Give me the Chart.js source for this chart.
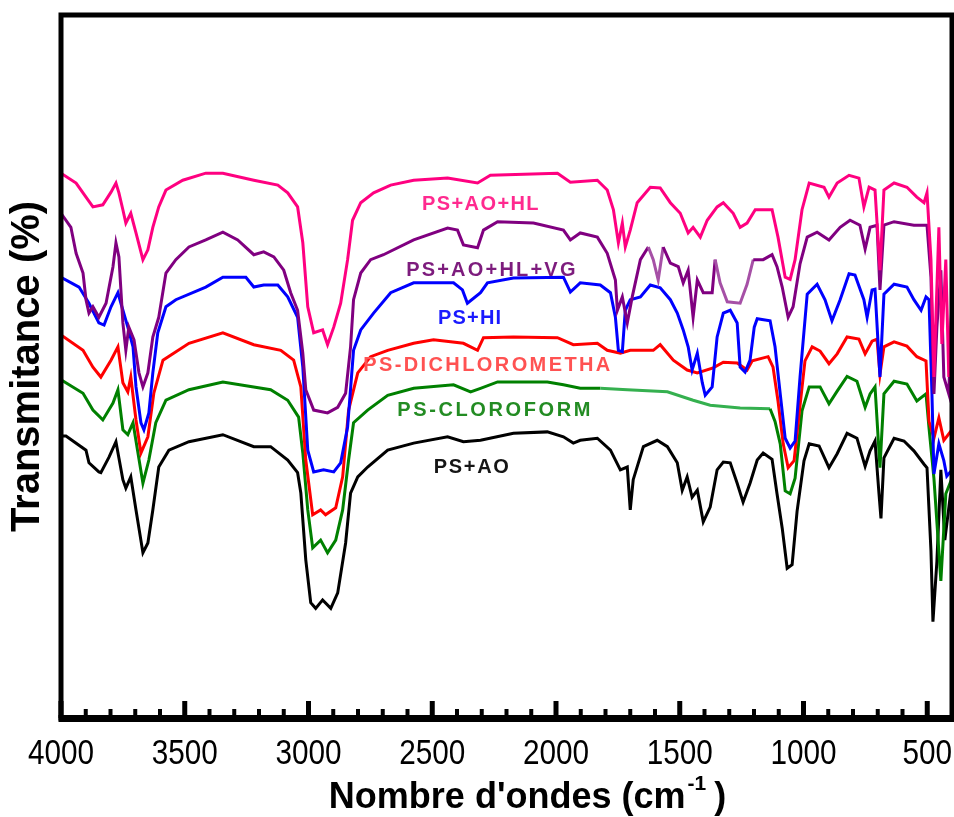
<!DOCTYPE html>
<html>
<head>
<meta charset="utf-8">
<script src="https://cdn.jsdelivr.net/npm/chart.js@4.4.1/dist/chart.umd.min.js"></script>
<style>
  html, body { margin: 0; padding: 0; background: #fff; }
  #wrap { width: 954px; height: 817px; position: relative; }
</style>
</head>
<body>
<div id="wrap"><canvas id="ftir"></canvas></div>
<script>
// FTIR spectra, [wavenumber (cm-1), transmittance (%)] pairs, one array per sample
const psAoHl = [[4000,77.5],[3939,76.1],[3899,74.1],[3871,72.7],[3831,73.0],[3798,74.8],[3778,76.1],[3766,74.7],[3750,72.3],[3738,70.4],[3718,71.8],[3697,69.0],[3669,65.2],[3649,66.6],[3629,69.8],[3605,72.7],[3576,75.1],[3508,76.5],[3415,77.5],[3346,77.5],[3221,76.5],[3124,75.8],[3084,74.7],[3044,72.7],[3023,67.6],[3003,58.5],[2979,54.8],[2943,55.2],[2923,53.1],[2898,55.6],[2870,59.0],[2842,65.2],[2822,70.8],[2789,73.3],[2737,74.7],[2668,75.8],[2575,76.5],[2438,76.8],[2317,76.1],[2265,77.2],[1994,77.5],[1942,76.2],[1833,76.5],[1793,75.1],[1768,72.3],[1748,67.6],[1732,70.4],[1720,67.0],[1700,69.4],[1672,73.3],[1619,75.5],[1579,75.4],[1538,73.3],[1498,71.8],[1466,69.0],[1446,69.8],[1417,68.4],[1389,70.8],[1349,72.7],[1324,73.3],[1284,71.8],[1256,69.8],[1228,70.4],[1195,72.3],[1127,72.3],[1103,68.4],[1074,62.7],[1054,62.4],[1034,65.2],[1006,72.3],[977,76.1],[917,75.5],[897,74.1],[864,76.1],[816,77.2],[776,76.8],[756,72.7],[735,75.5],[711,75.1],[691,63.7],[675,75.1],[634,76.1],[582,75.5],[542,74.1],[513,73.3],[501,74.7],[485,65.2],[473,48.5],[453,69.8],[441,53.2],[425,65.2],[413,48.5],[400,59.5]];

const psAoHlVg = [[4000,71.8],[3960,69.8],[3939,66.1],[3911,63.3],[3899,59.5],[3887,57.6],[3871,58.5],[3847,57.0],[3818,59.0],[3790,64.2],[3778,67.6],[3766,65.6],[3750,56.2],[3738,52.3],[3726,55.6],[3705,53.8],[3685,49.1],[3669,47.1],[3649,49.1],[3629,54.2],[3605,57.0],[3576,63.3],[3536,65.2],[3483,67.0],[3415,68.0],[3346,69.1],[3286,68.0],[3221,65.9],[3181,66.3],[3140,65.6],[3100,63.7],[3072,60.5],[3044,58.0],[3023,51.9],[3011,46.7],[2979,43.8],[2923,43.4],[2882,44.2],[2850,46.2],[2830,52.8],[2818,59.5],[2789,63.3],[2749,65.2],[2697,65.9],[2575,68.0],[2438,69.7],[2398,69.4],[2374,67.3],[2317,66.9],[2293,69.4],[2236,70.6],[2091,70.4],[1970,69.4],[1942,68.0],[1902,69.0],[1833,68.4],[1793,66.1],[1760,62.3],[1752,58.0],[1732,59.9],[1712,56.2],[1692,59.9],[1659,65.2],[1627,67.0],[1607,65.2],[1587,62.3],[1567,67.0],[1538,64.7],[1506,64.2],[1486,61.9],[1466,63.7],[1446,57.0],[1429,62.3],[1405,60.5],[1369,60.5],[1357,65.2],[1337,61.9],[1308,59.2],[1256,59.0],[1228,61.7],[1203,65.2],[1163,65.2],[1127,65.9],[1107,64.2],[1086,61.3],[1062,57.0],[1042,58.5],[1014,64.6],[985,68.4],[945,69.1],[897,68.0],[852,69.8],[812,70.8],[772,70.1],[751,66.7],[731,69.8],[703,70.1],[691,60.9],[675,70.1],[634,70.6],[554,70.1],[501,70.1],[485,62.7],[473,46.1],[461,55.6],[445,63.7],[433,48.5],[413,46.1],[400,59.5]];

const psHi = [[4000,62.7],[3927,61.3],[3887,59.0],[3847,56.2],[3826,55.9],[3798,58.5],[3770,60.5],[3758,59.0],[3730,55.6],[3709,52.8],[3697,47.1],[3677,42.0],[3665,41.0],[3645,43.4],[3629,49.1],[3609,54.8],[3576,58.5],[3536,59.5],[3415,61.3],[3346,62.7],[3253,62.7],[3221,61.3],[3181,61.6],[3124,61.6],[3084,59.9],[3044,57.0],[3023,49.9],[3003,38.1],[2979,35.0],[2939,35.3],[2898,35.0],[2870,36.3],[2842,41.4],[2818,52.3],[2789,55.2],[2737,57.6],[2668,60.5],[2575,61.9],[2414,61.9],[2378,60.9],[2358,59.0],[2305,60.5],[2277,61.9],[2172,62.6],[1970,62.7],[1942,60.6],[1902,61.9],[1821,61.6],[1780,60.5],[1760,57.0],[1748,52.3],[1732,52.1],[1720,58.0],[1700,59.5],[1659,59.9],[1619,61.6],[1579,61.2],[1538,59.5],[1510,57.6],[1486,55.2],[1466,52.8],[1450,49.5],[1429,51.9],[1409,47.7],[1397,45.9],[1369,47.1],[1349,54.2],[1324,57.6],[1296,58.0],[1268,56.2],[1256,49.9],[1236,49.2],[1216,50.9],[1199,55.6],[1187,56.8],[1135,56.5],[1115,52.8],[1094,46.1],[1074,39.8],[1054,38.4],[1034,39.4],[1014,48.5],[985,60.3],[945,61.7],[913,59.5],[885,56.5],[852,59.5],[816,63.2],[792,63.0],[756,59.5],[743,57.0],[723,60.9],[711,61.0],[691,48.5],[675,60.3],[634,61.7],[582,61.3],[554,59.5],[525,58.0],[505,59.9],[493,59.5],[481,46.1],[473,34.7],[453,39.0],[433,36.6],[421,34.4],[400,35.3]];

const psDichloro = [[4000,54.5],[3911,52.3],[3871,49.9],[3839,48.5],[3798,50.9],[3770,52.8],[3750,47.7],[3730,46.4],[3718,48.5],[3697,42.4],[3677,37.7],[3649,40.0],[3625,46.2],[3588,50.9],[3483,53.3],[3346,54.8],[3221,53.1],[3112,52.3],[3060,50.9],[3031,47.1],[3011,36.7],[2983,28.9],[2951,29.6],[2931,28.9],[2890,29.9],[2862,34.3],[2838,43.8],[2801,49.1],[2749,51.4],[2680,52.3],[2575,53.3],[2495,53.8],[2374,53.3],[2317,52.3],[2293,54.1],[2172,54.2],[1994,54.1],[1930,53.1],[1833,53.3],[1793,52.3],[1740,51.9],[1700,52.3],[1607,52.3],[1579,53.1],[1526,50.9],[1470,49.5],[1429,49.1],[1365,49.8],[1324,50.6],[1268,50.5],[1228,49.5],[1207,50.8],[1143,51.4],[1123,49.9],[1103,45.1],[1082,39.0],[1062,35.6],[1038,36.6],[1018,43.2],[994,50.8],[965,52.8],[933,52.2],[897,50.4],[864,51.8],[824,54.2],[776,53.9],[751,51.8],[723,53.6],[703,53.9],[691,48.9],[675,52.8],[634,53.5],[582,52.9],[542,51.4],[505,50.8],[493,42.2],[473,39.8],[453,42.7],[433,39.5],[400,41.0]];

const psChloroform = [[4000,48.1],[3911,46.2],[3871,43.8],[3831,42.4],[3790,44.8],[3770,46.7],[3750,41.0],[3730,40.3],[3709,42.0],[3689,37.7],[3669,33.4],[3645,36.7],[3617,42.0],[3576,45.2],[3483,46.7],[3346,47.8],[3153,46.7],[3084,45.2],[3040,42.8],[3023,37.7],[3003,29.6],[2983,24.2],[2951,25.3],[2923,23.5],[2890,25.3],[2862,29.6],[2838,36.7],[2818,42.0],[2761,43.8],[2680,45.9],[2575,46.9],[2414,47.4],[2345,46.4],[2305,46.9],[2236,47.8],[2035,47.8],[1970,47.4],[1902,46.9],[1821,46.9],[1712,46.7],[1550,46.4],[1446,45.2],[1377,44.5],[1256,44.1],[1135,44.0],[1115,42.2],[1094,39.0],[1074,32.3],[1054,31.9],[1034,34.1],[1006,43.7],[977,47.1],[933,47.1],[897,44.7],[864,46.5],[824,48.6],[784,47.9],[751,44.2],[731,46.1],[711,47.1],[691,35.6],[675,46.1],[634,47.9],[582,47.5],[542,45.1],[505,46.1],[493,41.3],[473,34.1],[445,19.5],[425,31.9],[400,34.1]];

const psAo = [[4000,40.1],[3980,40.1],[3899,38.1],[3887,36.3],[3847,35.0],[3839,34.9],[3806,37.1],[3778,39.3],[3750,33.9],[3738,32.7],[3718,34.3],[3697,29.6],[3669,23.5],[3649,24.9],[3629,29.6],[3605,35.7],[3564,38.1],[3483,39.3],[3346,40.3],[3221,38.6],[3153,38.6],[3084,36.7],[3044,34.9],[3031,32.0],[3011,22.5],[2991,16.4],[2971,15.6],[2943,16.8],[2910,15.6],[2882,17.8],[2850,24.9],[2830,32.0],[2801,34.3],[2761,35.7],[2680,38.1],[2575,39.1],[2438,40.0],[2374,39.3],[2305,39.5],[2172,40.5],[2035,40.7],[1970,40.0],[1930,39.1],[1902,39.5],[1833,39.8],[1780,38.1],[1740,35.3],[1712,35.7],[1700,29.6],[1688,33.9],[1647,38.6],[1591,39.5],[1550,38.6],[1510,36.3],[1490,32.4],[1470,34.3],[1450,31.4],[1429,32.4],[1405,27.9],[1377,30.0],[1349,35.3],[1324,36.4],[1296,36.3],[1268,33.4],[1244,30.7],[1216,33.4],[1187,36.7],[1163,37.7],[1127,36.8],[1107,31.9],[1086,27.0],[1066,21.3],[1046,21.8],[1026,29.4],[998,36.6],[977,39.0],[937,38.7],[897,35.6],[864,37.6],[824,40.5],[784,39.8],[751,35.8],[731,38.0],[711,39.4],[695,31.9],[687,28.4],[675,37.0],[634,39.8],[594,39.4],[554,38.0],[513,36.1],[501,35.6],[485,23.8],[477,13.7],[461,22.3],[445,35.3],[429,25.3],[409,31.0],[400,29.6]];

// Sample names and where each name is written (wavenumber, transmittance)
const sampleNames = ['PS+AO+HL', 'PS+AO+HL+VG', 'PS+HI', 'PS-DICHLOROMETHA', 'PS-CLOROFORM', 'PS+AO'];
const nameWave = [2303, 2259, 2347, 2275, 2246, 2339];
const nameLevel = [73.1, 63.6, 56.8, 50.1, 43.7, 35.6];

// Labelled ticks along the wavenumber axis
const tickWaves = [4000, 3500, 3000, 2500, 2000, 1500, 1000, 500];

// Stretches where a trace is printed in a paler shade
const paleVg = [[1630, 1565], [1360, 1200]];
const paleChloroform = [[1821, 1120]];

const toPoints = arr => arr.map(([w, t]) => ({ x: w, y: t }));
const inside = (ctx, ranges) => ranges.some(([hi, lo]) =>
  ctx.p0.parsed.x <= hi && ctx.p0.parsed.x >= lo && ctx.p1.parsed.x <= hi && ctx.p1.parsed.x >= lo);

const FONT = '"Liberation Sans", Arial, Helvetica, sans-serif';

const lineStyle = color => ({
  borderColor: color, backgroundColor: color, borderWidth: 3,
  pointRadius: 0, pointHoverRadius: 0, tension: 0, fill: false
});

const datasets = [
  { label: sampleNames[0], data: toPoints(psAoHl), ...lineStyle('#ff0080') },
  { label: sampleNames[1], data: toPoints(psAoHlVg), ...lineStyle('#800080'),
    segment: { borderColor: c => inside(c, paleVg) ? '#a650a6' : undefined } },
  { label: sampleNames[2], data: toPoints(psHi), ...lineStyle('#0000ff') },
  { label: sampleNames[3], data: toPoints(psDichloro), ...lineStyle('#ff0000') },
  { label: sampleNames[4], data: toPoints(psChloroform), ...lineStyle('#008000'),
    segment: { borderColor: c => inside(c, paleChloroform) ? '#35b04f' : undefined } },
  { label: sampleNames[5], data: toPoints(psAo), ...lineStyle('#000000') }
];

const nameColors = ['#ff2a8f', '#7d1c7d', '#1a1aff', '#ff5252', '#238c23', '#151515'];
const nameSpacing = [1.4, 2.2, 1.2, 2.4, 2.6, 1.7];

// Frame, inward ticks, condensed tick numbers, sample names and the wavenumber caption
const decorations = {
  id: 'decorations',
  afterDatasetsDraw(chart) {
    const { ctx, chartArea: a, scales: { x, y } } = chart;
    ctx.save();

    // sample names
    ctx.textAlign = 'center';
    ctx.textBaseline = 'middle';
    ctx.font = 'bold 20px ' + FONT;
    sampleNames.forEach((name, i) => {
      ctx.fillStyle = nameColors[i];
      ctx.letterSpacing = nameSpacing[i] + 'px';
      ctx.fillText(name, x.getPixelForValue(nameWave[i]), y.getPixelForValue(nameLevel[i]));
    });
    ctx.letterSpacing = '0px';

    // inward ticks: minor every 100 cm-1, major every 500 cm-1
    ctx.fillStyle = '#000';
    for (let w = 500; w <= 4000; w += 100) {
      const px = x.getPixelForValue(w);
      const major = w % 500 === 0;
      const tw = major ? 5 : 4;
      const th = major ? 17 : 9;
      ctx.fillRect(px - tw / 2, a.bottom - th, tw, th);
    }

    // heavy frame
    ctx.strokeStyle = '#000';
    ctx.lineWidth = 5;
    ctx.strokeRect(a.left, a.top, a.right - a.left, a.bottom - a.top);
    ctx.lineWidth = 7;
    ctx.beginPath();
    ctx.moveTo(a.left - 2.5, a.bottom + 0.5);
    ctx.lineTo(a.right + 2.5, a.bottom + 0.5);
    ctx.stroke();

    // condensed tick numbers under the major ticks
    ctx.fillStyle = '#000';
    ctx.textAlign = 'center';
    ctx.textBaseline = 'middle';
    ctx.font = '35px ' + FONT;
    tickWaves.forEach(v => {
      ctx.save();
      ctx.translate(x.getPixelForValue(v), a.bottom + 36);
      ctx.scale(0.85, 1);
      ctx.fillText(String(v), 0, 0);
      ctx.restore();
    });

    // axis caption with superscript
    const main = "Nombre d'ondes (cm";
    const sup = '-1';
    const tail = ')';
    ctx.textAlign = 'left';
    ctx.textBaseline = 'alphabetic';
    ctx.font = 'bold 36px ' + FONT;
    const wMain = ctx.measureText(main).width;
    const wTail = ctx.measureText(tail).width;
    ctx.font = 'bold 21px ' + FONT;
    const wSup = ctx.measureText(sup).width;
    const total = wMain + 2 + wSup + 8 + wTail;
    const cx = (a.left + a.right) / 2 + 21;
    const base = a.bottom + 90;
    let px = cx - total / 2;
    ctx.font = 'bold 36px ' + FONT;
    ctx.fillText(main, px, base);
    px += wMain + 2;
    ctx.font = 'bold 21px ' + FONT;
    ctx.fillText(sup, px, base - 18);
    px += wSup + 8;
    ctx.font = 'bold 36px ' + FONT;
    ctx.fillText(tail, px, base);

    ctx.restore();
  }
};

new Chart(document.getElementById('ftir'), {
  type: 'line',
  data: { datasets },
  options: {
    responsive: true,
    maintainAspectRatio: false,
    animation: false,
    devicePixelRatio: 1,
    layout: { padding: { top: 15, right: 2, bottom: 0, left: 0 } },
    plugins: { legend: { display: false }, tooltip: { enabled: false }, title: { display: false } },
    scales: {
      x: {
        type: 'linear',
        reverse: true,
        min: 400,
        max: 4000,
        afterBuildTicks(scale) { scale.ticks = tickWaves.map(v => ({ value: v })); },
        ticks: { display: false },
        grid: { display: false, drawTicks: false },
        border: { display: false },
        afterFit(scale) { scale.height = 99; scale.paddingLeft = 0; scale.paddingRight = 0; }
      },
      y: {
        min: 0,
        max: 100,
        ticks: { display: false },
        grid: { display: false, drawTicks: false },
        border: { display: false },
        title: {
          display: true, text: 'Transmitance (%)', color: '#000',
          font: { family: FONT, size: 40, weight: 'bold', lineHeight: 1 },
          padding: { top: 8, bottom: 0 }
        },
        afterFit(scale) { scale.width = 61; scale.paddingTop = 0; scale.paddingBottom = 0; }
      }
    }
  },
  plugins: [decorations]
});
</script>
</body>
</html>
